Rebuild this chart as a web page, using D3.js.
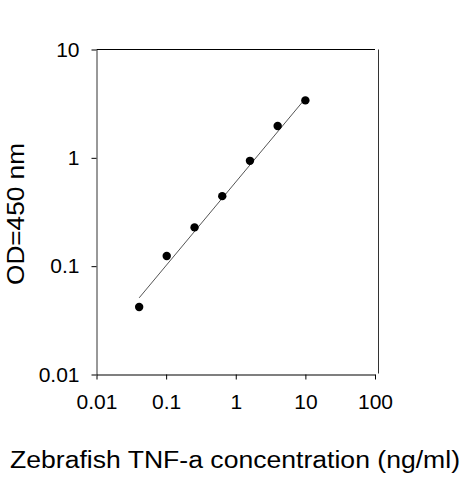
<!DOCTYPE html>
<html>
<head>
<meta charset="utf-8">
<script src="https://cdn.jsdelivr.net/npm/d3@7"></script>
<style>
  body { margin: 0; background: #fff; }
  svg text { font-family: "Liberation Sans", Arial, sans-serif; fill: #000; }
</style>
</head>
<body>
<div id="chart"></div>
<script>
// values
const concentration = [0.041, 0.102, 0.256, 0.64, 1.6, 4, 10];
const od450 = [0.042, 0.124, 0.228, 0.443, 0.938, 1.97, 3.39];
const fitX = [0.041, 10];
const fitY = [0.051, 3.53];
const xTicks = [0.01, 0.1, 1, 10, 100];
const xTickLabels = ["0.01", "0.1", "1", "10", "100"];
const yTicks = [0.01, 0.1, 1, 10];
const yTickLabels = ["0.01", "0.1", "1", "10"];

const W = 463, H = 480;
const box = {left: 96.5, right: 375, top: 49.5, bottom: 374.5};

const svg = d3.select("#chart").append("svg")
    .attr("width", W)
    .attr("height", H);

const x = d3.scaleLog().domain([0.01, 100]).range([box.left, box.right]);
const y = d3.scaleLog().domain([0.01, 10]).range([box.bottom, box.top]);

// frame lines top / right
svg.append("line")
    .attr("x1", box.left).attr("x2", box.right)
    .attr("y1", box.top).attr("y2", box.top)
    .attr("stroke", "#000").attr("stroke-width", 1.2);
svg.append("line")
    .attr("x1", box.right + 3.5).attr("x2", box.right + 3.5)
    .attr("y1", box.top).attr("y2", box.bottom - 1)
    .attr("stroke", "#333").attr("stroke-width", 1);

let gx = svg.append("g")
    .attr("transform", `translate(0,${box.bottom})`)
    .call(d3.axisBottom(x).tickValues(xTicks)
        .tickFormat((d, i) => xTickLabels[i])
        .tickSizeInner(5).tickSizeOuter(0).tickPadding(15));
gx.select(".domain").attr("stroke", "#000").attr("stroke-width", 1.2);
gx.selectAll(".tick line").attr("stroke", "#000");
gx.selectAll(".tick text").attr("font-size", 21).attr("fill", "#000")
    .attr("font-family", "Liberation Sans, Arial, sans-serif");

let gy = svg.append("g")
    .attr("transform", `translate(${box.left},0)`)
    .call(d3.axisLeft(y).tickValues(yTicks)
        .tickFormat((d, i) => yTickLabels[i])
        .tickSizeInner(5).tickSizeOuter(0).tickPadding(12));
gy.select(".domain").attr("stroke", "#333").attr("stroke-width", 1);
gy.selectAll(".tick line").attr("stroke", "#000");
gy.selectAll(".tick text").attr("font-size", 21).attr("fill", "#000")
    .attr("font-family", "Liberation Sans, Arial, sans-serif");

// regression line
svg.append("path")
    .datum(d3.zip(fitX, fitY))
    .attr("d", d3.line().x(d => x(d[0])).y(d => y(d[1])))
    .attr("fill", "none")
    .attr("stroke", "#555")
    .attr("stroke-width", 1);

svg.append("g").selectAll("circle")
    .data(d3.zip(concentration, od450))
    .join("circle")
    .attr("cx", d => x(d[0]))
    .attr("cy", d => y(d[1]))
    .attr("r", 4.2)
    .attr("fill", "#000");

svg.append("text")
    .attr("x", 235)
    .attr("y", 468)
    .attr("text-anchor", "middle")
    .attr("font-size", 23)
    .attr("textLength", 450)
    .attr("lengthAdjust", "spacingAndGlyphs")
    .text("Zebrafish TNF-a concentration (ng/ml)");

svg.append("text")
    .attr("transform", "translate(24,214) rotate(-90)")
    .attr("text-anchor", "middle")
    .attr("font-size", 24)
    .attr("textLength", 142)
    .attr("lengthAdjust", "spacingAndGlyphs")
    .text("OD=450 nm");
</script>
</body>
</html>
